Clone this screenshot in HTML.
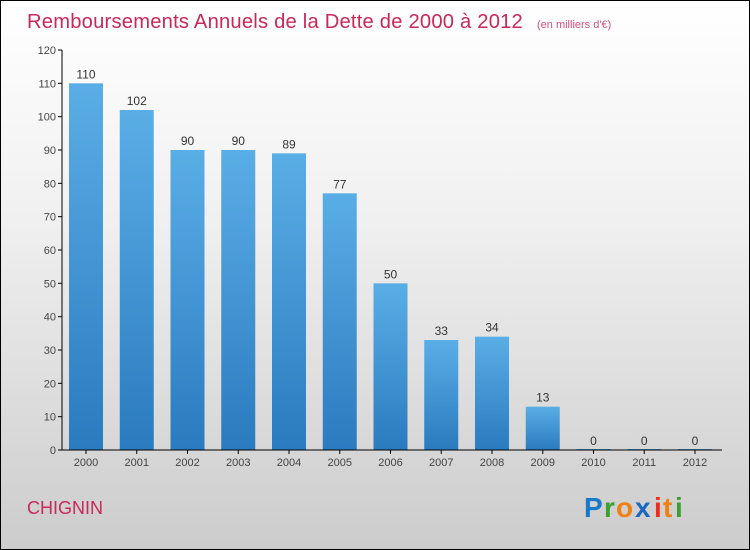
<!DOCTYPE html>
<html><head><meta charset="utf-8"><style>
body{margin:0;}
#wrap{position:relative;width:748px;height:548px;border:1px solid #000;background:linear-gradient(#ffffff 0%,#f0f0f0 40%,#cccccc 100%);overflow:hidden;font-family:"Liberation Sans",sans-serif;}
</style></head><body>
<div id="wrap">
<svg id="svg" width="748" height="548" xmlns="http://www.w3.org/2000/svg">
<defs><linearGradient id="bg" x1="0" y1="0" x2="0" y2="1"><stop offset="0" stop-color="#5aaee6"/><stop offset="1" stop-color="#2a7bbf"/></linearGradient></defs>
<text x="26" y="27" font-size="20" fill="#c8285a" letter-spacing="0.2" textLength="496" lengthAdjust="spacingAndGlyphs">Remboursements Annuels de la Dette de 2000 à 2012</text>
<text x="536" y="27" font-size="11" fill="#d0507a">(en milliers d'€)</text>
<g id="plot"></g>
<text x="26" y="513" font-size="18" fill="#c8285a">CHIGNIN</text>
<g font-size="28" font-weight="bold">
<text x="583" y="516" fill="#1a78c8">P</text><text x="603" y="516" fill="#3aa030">r</text><text x="615" y="516" fill="#f08010">o</text><text x="634" y="516" fill="#1a68c0">x</text><text x="653" y="516" fill="#e83020">i</text><text x="662" y="516" fill="#f08010">t</text><text x="674" y="516" fill="#3aa030">i</text>
</g>
</svg>
</div>
<script>
const categories=["2000","2001","2002","2003","2004","2005","2006","2007","2008","2009","2010","2011","2012"];
const values=[110,102,90,90,89,77,50,33,34,13,0,0,0];
const yTicks=[0,10,20,30,40,50,60,70,80,90,100,110,120];
const NS="http://www.w3.org/2000/svg";
const g=document.getElementById('plot');
const x0=61,yBase=449,yTop=49,ymax=120,step=50.75,bw=34;
const y=v=>yBase-(yBase-yTop)*v/ymax;
const xc=i=>85+i*step;
function mk(t,a,p){const e=document.createElementNS(NS,t);for(const k in a)e.setAttribute(k,a[k]);(p||g).appendChild(e);return e;}
yTicks.forEach(t=>{
 const l=mk('line',{x1:x0-4,x2:x0,y1:y(t),y2:y(t),stroke:'#000'});
 
 
 const tx=mk('text',{x:x0-6,y:y(t)+4,'font-size':11,fill:'#444','text-anchor':'end'});tx.textContent=t;
 
 
});
values.forEach((v,i)=>{
 const h=Math.max(yBase-y(v),1);
 const r=mk('rect',{x:xc(i)-bw/2,y:yBase-h,width:bw,height:h,fill:'url(#bg)'});
 
 
 const vt=mk('text',{x:xc(i),y:y(v)-5,'font-size':12,fill:'#333','text-anchor':'middle'});vt.textContent=v;
 
 
 const tk=mk('line',{x1:xc(i),x2:xc(i),y1:yBase,y2:yBase+4,stroke:'#000'});
 
 
 const ct=mk('text',{x:xc(i),y:yBase+16,'font-size':11,fill:'#444','text-anchor':'middle'});ct.textContent=categories[i];
 
 
});
const ya=mk('line',{x1:x0,x2:x0,y1:yTop,y2:yBase,stroke:'#000'});


const xa=mk('line',{x1:x0,x2:721,y1:yBase,y2:yBase,stroke:'#000'});


</script>
</body></html>
